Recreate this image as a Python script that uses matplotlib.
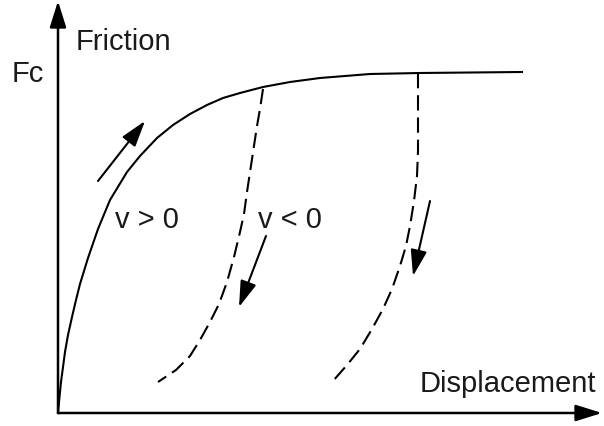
import matplotlib
matplotlib.use("Agg")
import matplotlib.pyplot as plt
from matplotlib.patches import FancyArrowPatch

plt.rcParams['font.family'] = ['Liberation Sans', 'DejaVu Sans']
plt.rcParams['lines.scale_dashes'] = False

# Loading curve (v > 0)
load_disp = [0, 1.5, 3, 5, 7, 10, 14, 18, 22, 30, 40, 52, 69, 82, 99, 115,
             132, 149, 165, 182, 205, 232, 262, 312, 362, 464]
load_fric = [0, 16, 31, 46, 61, 78, 96, 113, 129, 155, 184, 213, 241, 257, 275, 288,
             299, 308, 315, 320, 326, 331, 335, 339, 340, 341]

# Unloading curves (v < 0)
unload1_disp = [205, 202, 199, 194, 189, 186, 182, 176, 169, 161, 152, 142, 132, 118, 100]
unload1_fric = [324, 304, 287, 254, 221, 199, 181, 156, 131, 109, 91, 73, 57, 43, 31]
unload2_disp = [360, 360, 360, 360, 359, 356, 352, 348, 342, 334, 325, 314, 302, 289, 275]
unload2_fric = [340, 314, 287, 262, 237, 212, 187, 167, 147, 124, 104, 84, 64, 48, 32]

# Direction arrows (start, end)
arrows = [((40, 232), (87, 292)),
          ((208, 177), (181, 106)),
          ((372, 212), (355, 137))]

# Axis extents
x_axis_end = 544
y_axis_end = 412

labels = [("Friction", 18, 364), ("Fc", -46, 332), ("Displacement", 362, 22),
          ("v > 0", 57, 186), ("v < 0", 200, 186)]

fig = plt.figure(figsize=(6.04, 4.27), dpi=100)
ax = fig.add_axes([0, 0, 1, 1])
ax.set_xlim(-58, 546)
ax.set_ylim(-13, 414)
ax.axis('off')

lw = 1.5
ax.plot(load_disp, load_fric, color='black', lw=lw, solid_joinstyle='round')
ax.plot(unload1_disp, unload1_fric, color='black', lw=lw, dashes=(11, 5))
ax.plot(unload2_disp, unload2_fric, color='black', lw=lw, dashes=(11, 5))

style = "-|>,head_length=16,head_width=5"
for (x0, y0), (x1, y1) in [((0, 0), (x_axis_end, 0)), ((0, 0), (0, y_axis_end))]:
    ax.add_patch(FancyArrowPatch((x0, y0), (x1, y1), arrowstyle=style,
                                 mutation_scale=1, color='black', lw=1.8,
                                 shrinkA=0, shrinkB=0))
for (x0, y0), (x1, y1) in arrows:
    ax.add_patch(FancyArrowPatch((x0, y0), (x1, y1), arrowstyle=style,
                                 mutation_scale=1, color='black', lw=1.5,
                                 shrinkA=0, shrinkB=0))

for txt, x, y in labels:
    ax.text(x, y, txt, fontsize=21, color='#1a1a1a', ha='left', va='baseline')

fig.savefig("out.png", dpi=100)
